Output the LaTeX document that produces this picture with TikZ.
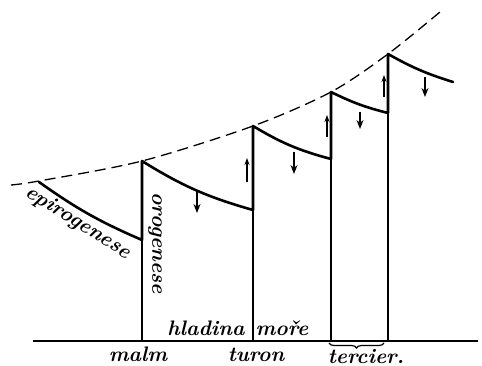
\documentclass[tikz,border=0pt]{standalone}
\usepackage{fontspec}
\usetikzlibrary{arrows.meta,decorations.pathreplacing}
\begin{document}
\begin{tikzpicture}[x=1pt,y=-1pt,
  lbl/.style={font=\fontsize{21}{24}\selectfont\bfseries\itshape, inner sep=0pt},
  seg/.style={line width=2.6pt, line cap=round, line join=round},
  vline/.style={line width=1.2pt},
  dn/.style={line width=1.3pt, -{Stealth[length=9pt,width=7pt]}},
  upar/.style={line width=1.1pt, -{Stealth[length=7pt,width=5pt]}},
  dsh/.style={line width=1.3pt, dash pattern=on 11pt off 6pt}]
\useasboundingbox (0,0) rectangle (482,366);
% key points
\coordinate (s0) at (39,182);
\coordinate (e0) at (142,240);
\coordinate (p1) at (142,161);
\coordinate (e1) at (253,210);
\coordinate (p2) at (253,126);
\coordinate (e2) at (331,159);
\coordinate (p3) at (331,92);
\coordinate (e3) at (388,113);
\coordinate (p4) at (388,54);
\coordinate (e4) at (453,82);
\coordinate (b1) at (142,341);
\coordinate (b2) at (253,341);
\coordinate (b3) at (331,341);
\coordinate (b4) at (388,341);
\coordinate (bl) at (33,341);
\coordinate (br) at (478,341);
% dashed envelope
\draw[dsh] plot[smooth] coordinates {(11,185) (39,181) (142,161) (253,126) (331,92) (388,54) (440,12)};
% saw-tooth
\draw[seg] (s0) to[bend right=6] (e0) -- (p1) to[bend right=8] (e1) -- (p2) to[bend right=8] (e2) -- (p3) to[bend right=6] (e3) -- (p4) to[bend right=6] (e4);
% thin verticals
\draw[vline] (e0) -- (b1);
\draw[vline] (e1) -- (b2);
\draw[vline] (e2) -- (b3);
\draw[vline] (e3) -- (b4);
% base line
\draw[line width=1.4pt] (bl) -- (br);
% arrows
\coordinate (d1a) at (197,192); \coordinate (d1b) at (197,213);
\coordinate (d2a) at (294,152); \coordinate (d2b) at (294,174);
\coordinate (d3a) at (360,112); \coordinate (d3b) at (360,129);
\coordinate (d4a) at (425,77);  \coordinate (d4b) at (425,97);
\coordinate (u1a) at (247,182); \coordinate (u1b) at (247,158);
\coordinate (u2a) at (327,137); \coordinate (u2b) at (327,115);
\coordinate (u3a) at (384,97);  \coordinate (u3b) at (384,75);
\draw[dn] (d1a) -- (d1b);
\draw[dn] (d2a) -- (d2b);
\draw[dn] (d3a) -- (d3b);
\draw[dn] (d4a) -- (d4b);
\draw[upar] (u1a) -- (u1b);
\draw[upar] (u2a) -- (u2b);
\draw[upar] (u3a) -- (u3b);
% brace
\coordinate (bra) at (329,343);
\coordinate (brb) at (384,343);
\draw[decorate, decoration={brace, mirror, amplitude=5pt}, line width=1.2pt] (bra) -- (brb);
% labels
\node[lbl, rotate=-32] (epi) at (78,223) {epirogenese};
\node[lbl, rotate=-90] (oro) at (155,243) {\addfontfeatures{LetterSpace=8}orogenese};
\node[lbl, anchor=base] (hl) at (206,335) {hladina};
\node[lbl, anchor=base] (mo) at (282,335) {moře};
\node[lbl, anchor=base] (ma) at (138,361) {malm};
\node[lbl, anchor=base] (tu) at (256,361) {turon};
\node[lbl, anchor=base] (te) at (366,363) {tercier.};
\end{tikzpicture}
\end{document}
